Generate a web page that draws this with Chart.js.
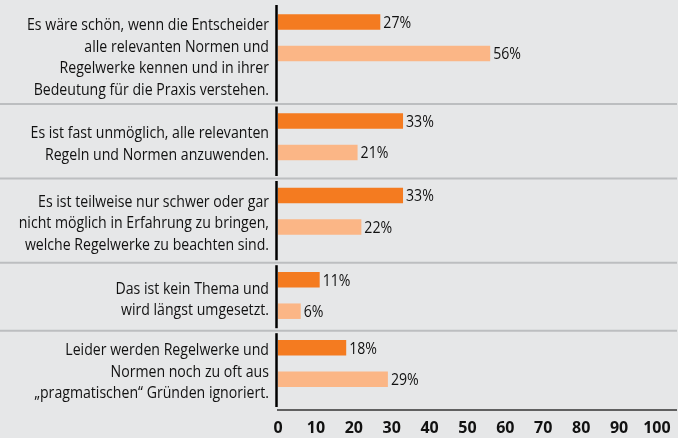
<!DOCTYPE html>
<html>
<head>
<meta charset="utf-8">
<script src="https://cdn.jsdelivr.net/npm/chart.js@4.4.0/dist/chart.umd.min.js"></script>
<style>
    html, body { margin: 0; padding: 0; background: #fff; }
    #wrap { width: 685px; height: 438px; }
</style>
</head>
<body>
<div id="wrap"><canvas id="chart" width="685" height="438"></canvas></div>
<script>
const categories = [
    ['Es wäre schön, wenn die Entscheider', 'alle relevanten Normen und', 'Regelwerke kennen und in ihrer', 'Bedeutung für die Praxis verstehen.'],
    ['Es ist fast unmöglich, alle relevanten', 'Regeln und Normen anzuwenden.'],
    ['Es ist teilweise nur schwer oder gar', 'nicht möglich in Erfahrung zu bringen,', 'welche Regelwerke zu beachten sind.'],
    ['Das ist kein Thema und', 'wird längst umgesetzt.'],
    ['Leider werden Regelwerke und', 'Normen noch zu oft aus', '„pragmatischen“ Gründen ignoriert.']
];
const seriesA = [27, 33, 33, 11, 18];
const seriesB = [56, 21, 22, 6, 29];
const tickLabels = [0, 10, 20, 30, 40, 50, 60, 70, 80, 90, 100];

// row layout (block heights on the hidden y scale), bars sit near the top of each block
const rowHeights = [99, 74.5, 84.2, 68, 76.3];
const barOffsetA = 17;
const barOffsetB = 48.5;

const panelColor = '#e6e7e8';
const sepColor = '#bcbec0';
const textColor = '#111';
const condense = 0.83;
const labelFont = '500 17px "Open Sans"';

const rowTops = [];
let rowsEnd = 0;
rowHeights.forEach(h => { rowTops.push(rowsEnd); rowsEnd += h; });

function drawText(ctx, text, x, y, align) {
    ctx.save();
    ctx.translate(x, y);
    ctx.scale(condense, 1);
    ctx.textAlign = align;
    ctx.fillText(text, 0, 0);
    ctx.restore();
}

const decor = {
    id: 'decor',
    beforeDraw(chart) {
        const ctx = chart.ctx;
        ctx.save();
        ctx.fillStyle = '#fff';
        ctx.fillRect(0, 0, chart.width, chart.height);
        ctx.fillStyle = panelColor;
        ctx.fillRect(0, 0, chart.chartArea.right + 1, chart.height);
        ctx.restore();
    },
    afterDraw(chart) {
        const ctx = chart.ctx;
        const area = chart.chartArea;
        const yScale = chart.scales.y;
        const axisX = area.left - 1.5;

        ctx.save();
        // axis lines
        ctx.strokeStyle = '#000';
        ctx.lineWidth = 2.5;
        ctx.beginPath();
        ctx.moveTo(axisX, yScale.getPixelForValue(0));
        ctx.lineTo(axisX, yScale.getPixelForValue(rowsEnd));
        ctx.stroke();

        ctx.strokeStyle = '#333';
        ctx.lineWidth = 1.5;
        ctx.beginPath();
        ctx.moveTo(area.left - 1, area.bottom);
        ctx.lineTo(area.right, area.bottom);
        ctx.stroke();

        // separators between the blocks
        for (let i = 1; i < rowTops.length; i++) {
            const y = yScale.getPixelForValue(rowTops[i]);
            ctx.fillStyle = panelColor;
            ctx.fillRect(axisX - 2, y - 2.5, 4, 5);
            ctx.strokeStyle = sepColor;
            ctx.lineWidth = 2;
            ctx.beginPath();
            ctx.moveTo(0, y);
            ctx.lineTo(area.right, y);
            ctx.stroke();
        }

        // category labels
        ctx.fillStyle = textColor;
        ctx.font = labelFont;
        ctx.textBaseline = 'middle';
        const lineH = 21.5;
        categories.forEach((lines, i) => {
            const mid = yScale.getPixelForValue(rowTops[i] + rowHeights[i] / 2) + 3;
            const start = mid - (lines.length - 1) * lineH / 2;
            lines.forEach((line, j) => {
                drawText(ctx, line, area.left - 9, start + j * lineH, 'right');
            });
        });

        // value labels
        chart.data.datasets.forEach((ds, d) => {
            chart.getDatasetMeta(d).data.forEach((bar, i) => {
                drawText(ctx, ds.data[i].x + '%', bar.x + 3, bar.y + 1, 'left');
            });
        });
        ctx.restore();
    }
};

new Chart(document.getElementById('chart'), {
    type: 'bar',
    data: {
        datasets: [{
            label: 'A',
            data: seriesA.map((v, i) => ({ x: v, y: rowTops[i] + barOffsetA })),
            backgroundColor: '#f47b20',
            grouped: false,
            maxBarThickness: 15.5
        }, {
            label: 'B',
            data: seriesB.map((v, i) => ({ x: v, y: rowTops[i] + barOffsetB })),
            backgroundColor: '#fbb686',
            grouped: false,
            maxBarThickness: 15.5
        }]
    },
    options: {
        indexAxis: 'y',
        responsive: false,
        animation: false,
        layout: { padding: { left: 278, right: 8, top: 5, bottom: 0 } },
        plugins: {
            legend: { display: false },
            tooltip: { enabled: false }
        },
        scales: {
            x: {
                type: 'linear',
                position: 'bottom',
                min: 0,
                max: 105.3,
                grid: { display: false, drawTicks: false },
                border: { display: false },
                afterBuildTicks: scale => {
                    scale.ticks = tickLabels.map(v => ({ value: v }));
                },
                afterFit: scale => {
                    scale.height = 28;
                },
                ticks: {
                    color: textColor,
                    padding: 9,
                    maxRotation: 0,
                    autoSkip: false,
                    font: { family: '"Liberation Sans Narrow", "Open Sans"', weight: 'bold', size: 16 }
                }
            },
            y: {
                type: 'linear',
                reverse: true,
                offset: false,
                min: 0,
                max: 405,
                display: false
            }
        }
    },
    plugins: [decor]
});
</script>
</body>
</html>
